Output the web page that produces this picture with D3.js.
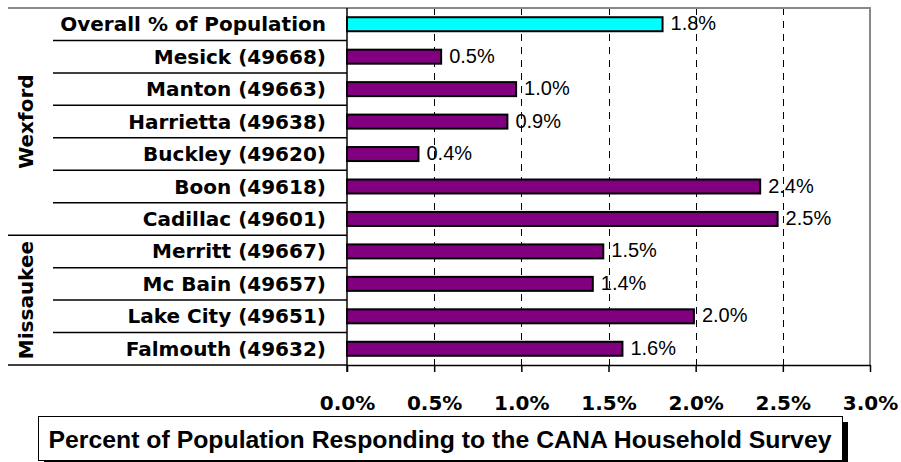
<!DOCTYPE html>
<html>
<head>
<meta charset="utf-8">
<script src="https://cdn.jsdelivr.net/npm/d3@7"></script>
<style>
  body { margin: 0; background: #fff; }
  svg { display: block; }
</style>
</head>
<body>
<svg width="901" height="462"></svg>
<script>
// Percent of population responding, by zip code

const categories = [
  'Overall % of Population',
  'Mesick (49668)',
  'Manton (49663)',
  'Harrietta (49638)',
  'Buckley (49620)',
  'Boon (49618)',
  'Cadillac (49601)',
  'Merritt (49667)',
  'Mc Bain (49657)',
  'Lake City (49651)',
  'Falmouth (49632)'
];
const values = [1.81, 0.54, 0.97, 0.92, 0.41, 2.37, 2.47, 1.47, 1.41, 1.99, 1.58];
const groupNames = ['Wexford', 'Missaukee'];
const groupSizes = [7, 4];
const xTicks = [0, 0.5, 1.0, 1.5, 2.0, 2.5, 3.0];
const gridTicks = [0.5, 1.0, 1.5, 2.0, 2.5];
const title = 'Percent of Population Responding to the CANA Household Survey';

const svg = d3.select('svg');
const plot = { left: 347, right: 870, top: 8, bottom: 365 };
const labelFont = 'DejaVu Sans, Verdana, sans-serif';
const valueFont = 'Liberation Sans, Arial, sans-serif';

let x = d3.scaleLinear().domain([0, 3]).range([plot.left, plot.right]);
let y = d3.scaleBand().domain(categories).range([plot.top, plot.bottom]).padding(0);
const bw = y.bandwidth();
const barH = 14;

// dashed gridlines
svg.append('g')
  .selectAll('line')
  .data(gridTicks)
  .join('line')
  .attr('x1', d => Math.round(x(d)) + 0.5)
  .attr('x2', d => Math.round(x(d)) + 0.5)
  .attr('y1', plot.top)
  .attr('y2', plot.bottom)
  .attr('stroke', '#000')
  .attr('stroke-width', 1)
  .attr('stroke-dasharray', '7,6');

// plot frame (top + right), grey
svg.append('path')
  .attr('d', `M${plot.left},${plot.top}H${plot.right}V${plot.bottom}`)
  .attr('fill', 'none')
  .attr('stroke', '#888')
  .attr('stroke-width', 2);

// bottom axis
const xAxis = svg.append('g')
  .attr('transform', 'translate(0,' + plot.bottom + ')')
  .call(d3.axisBottom(x)
    .tickValues(xTicks)
    .tickSize(7)
    .tickSizeOuter(0)
    .tickPadding(24)
    .tickFormat(d => d.toFixed(1) + '%'));
xAxis.select('.domain').attr('stroke', '#000').attr('stroke-width', 1.5);
xAxis.selectAll('.tick line').attr('stroke', '#000').attr('stroke-width', 1.5);
xAxis.selectAll('.tick text')
  .attr('fill', '#000')
  .style('font-family', labelFont)
  .style('font-weight', 'bold')
  .style('font-size', '20px');

// row separators in the label area
const boundaries = d3.range(categories.length + 1);
const groupEdges = [0];
groupSizes.forEach(s => groupEdges.push(groupEdges[groupEdges.length - 1] + s));

svg.append('g')
  .selectAll('line')
  .data(boundaries)
  .join('line')
  .attr('x1', i => groupEdges.includes(i) ? 8 : 53)
  .attr('x2', plot.left)
  .attr('y1', i => plot.top + i * bw)
  .attr('y2', i => plot.top + i * bw)
  .attr('stroke', i => i === 0 ? '#666' : '#000')
  .attr('stroke-width', 1.5);

// left axis line
svg.append('line')
  .attr('x1', plot.left).attr('x2', plot.left)
  .attr('y1', plot.top).attr('y2', plot.bottom + 7)
  .attr('stroke', '#000')
  .attr('stroke-width', 1.5);

// bars
svg.append('g')
  .selectAll('rect')
  .data(categories)
  .join('rect')
  .attr('x', x(0))
  .attr('y', d => y(d) + (bw - barH) / 2)
  .attr('width', (d, i) => x(values[i]) - x(0))
  .attr('height', barH)
  .attr('fill', (d, i) => i === 0 ? '#00ffff' : '#800080')
  .attr('stroke', '#000')
  .attr('stroke-width', 2);

// value labels
svg.append('g')
  .selectAll('text')
  .data(categories)
  .join('text')
  .attr('x', (d, i) => x(values[i]) + 8)
  .attr('y', d => y(d) + bw / 2 - 1)
  .attr('dominant-baseline', 'central')
  .style('font-family', valueFont)
  .style('font-size', '20px')
  .text((d, i) => values[i].toFixed(1) + '%');

// category labels
svg.append('g')
  .selectAll('text')
  .data(categories)
  .join('text')
  .attr('x', 326)
  .attr('y', d => y(d) + bw / 2)
  .attr('text-anchor', 'end')
  .attr('dominant-baseline', 'central')
  .style('font-family', labelFont)
  .style('font-weight', 'bold')
  .style('font-size', '20px')
  .text(d => d);

// group labels (rotated)
svg.append('g')
  .selectAll('text')
  .data(groupNames)
  .join('text')
  .attr('transform', (d, i) => {
    const cy = plot.top + (groupEdges[i] + groupEdges[i + 1]) / 2 * bw;
    return 'translate(26,' + cy + ') rotate(-90)';
  })
  .attr('text-anchor', 'middle')
  .attr('dominant-baseline', 'central')
  .style('font-family', labelFont)
  .style('font-weight', 'bold')
  .style('font-size', '20px')
  .text(d => d);

// title box with shadow
const box = { x: 38, y: 416, w: 804, h: 44 };
svg.append('rect')
  .attr('x', box.x + box.w).attr('y', box.y + 6)
  .attr('width', 6).attr('height', box.h)
  .attr('fill', '#000');
svg.append('rect')
  .attr('x', box.x + 6).attr('y', box.y + box.h)
  .attr('width', box.w).attr('height', 6)
  .attr('fill', '#000');
svg.append('rect')
  .attr('x', box.x + 0.5).attr('y', box.y + 0.5)
  .attr('width', box.w).attr('height', box.h)
  .attr('fill', '#fff')
  .attr('stroke', '#000')
  .attr('stroke-width', 1);
svg.append('text')
  .attr('x', box.x + box.w / 2)
  .attr('y', box.y + box.h / 2 + 1)
  .attr('text-anchor', 'middle')
  .attr('dominant-baseline', 'central')
  .style('font-family', valueFont)
  .style('font-weight', 'bold')
  .style('font-size', '24.8px')
  .text(title);
</script>
</body>
</html>
